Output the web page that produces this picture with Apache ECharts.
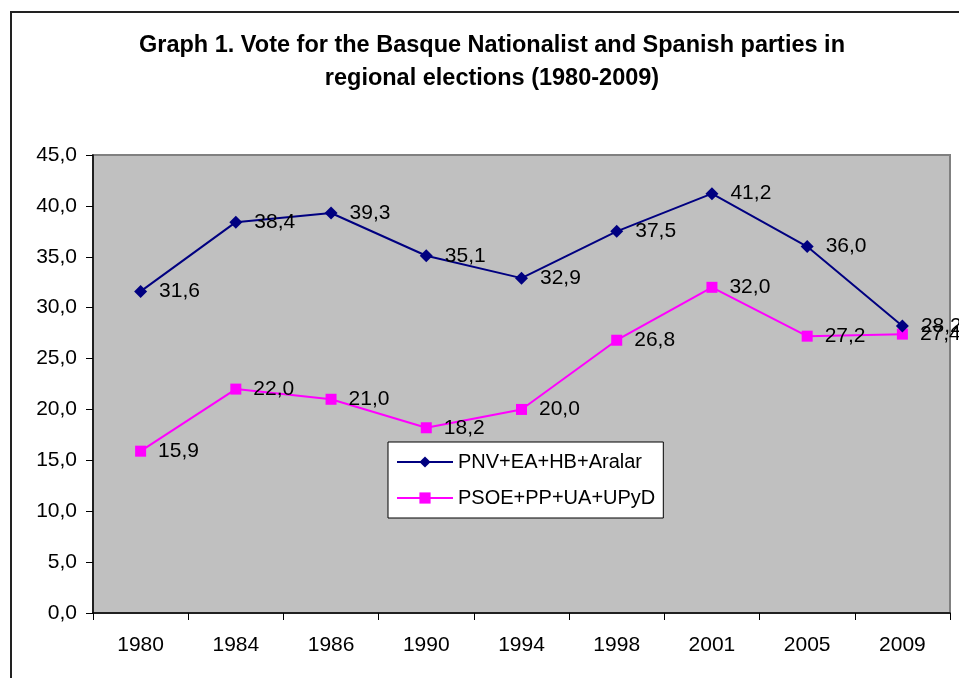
<!DOCTYPE html>
<html>
<head>
<meta charset="utf-8">
<script src="https://cdn.jsdelivr.net/npm/echarts@6/dist/echarts.min.js"></script>
<style>
  html, body { margin: 0; padding: 0; background: #fff; }
  #chart { width: 959px; height: 678px; }
</style>
</head>
<body>
<div id="chart"></div>
<script>
// Election years
const years = ['1980', '1984', '1986', '1990', '1994', '1998', '2001', '2005', '2009'];
// Vote share (%) of the Basque nationalist parties
const nationalist = [31.6, 38.4, 39.3, 35.1, 32.9, 37.5, 41.2, 36.0, 28.2];
// Vote share (%) of the Spanish parties
const spanish = [15.9, 22.0, 21.0, 18.2, 20.0, 26.8, 32.0, 27.2, 27.4];
const seriesNames = ['PNV+EA+HB+Aralar', 'PSOE+PP+UA+UPyD'];
const titleLines = [
  'Graph 1. Vote for the Basque Nationalist and Spanish parties in',
  'regional elections (1980-2009)'
];

const FONT = '"Liberation Sans", Arial, sans-serif';
const comma = v => Number(v).toFixed(1).replace('.', ',');

const chart = echarts.init(document.getElementById('chart'), null, { renderer: 'canvas' });

const labelStyle = {
  show: true,
  position: 'right',
  distance: 12,
  color: '#000',
  fontFamily: FONT,
  fontSize: 21,
  formatter: p => comma(p.value)
};

chart.setOption({
  animation: false,
  backgroundColor: '#fff',
  graphic: [
    {
      type: 'rect',
      shape: { x: 11, y: 12, width: 1000, height: 1000 },
      style: { fill: 'none', stroke: '#222', lineWidth: 2 },
      silent: true
    },
    {
      type: 'text',
      x: 492, y: 46,
      style: {
        text: titleLines[0],
        font: 'bold 23.5px ' + FONT,
        fill: '#000',
        textAlign: 'center',
        textVerticalAlign: 'middle'
      }
    },
    {
      type: 'text',
      x: 492, y: 79,
      style: {
        text: titleLines[1],
        font: 'bold 23.5px ' + FONT,
        fill: '#000',
        textAlign: 'center',
        textVerticalAlign: 'middle'
      }
    }
  ],
  grid: {
    left: 93,
    right: 9,
    top: 155,
    bottom: 65,
    show: true,
    backgroundColor: '#C0C0C0',
    borderColor: '#808080',
    borderWidth: 2
  },
  legend: {
    orient: 'vertical',
    left: 388,
    top: 442,
    itemWidth: 56,
    itemHeight: 14,
    itemGap: 16,
    padding: [10, 8, 10, 8],
    backgroundColor: '#fff',
    borderColor: '#000',
    borderWidth: 1,
    textStyle: { color: '#000', fontFamily: FONT, fontSize: 20 },
    data: seriesNames
  },
  xAxis: {
    type: 'category',
    data: years,
    boundaryGap: true,
    axisLine: { show: true, lineStyle: { color: '#000', width: 1.5 } },
    axisTick: { show: true, length: 7, lineStyle: { color: '#000' } },
    axisLabel: { color: '#000', fontFamily: FONT, fontSize: 21, margin: 22 },
    splitLine: { show: false }
  },
  yAxis: {
    type: 'value',
    min: 0,
    max: 45,
    interval: 5,
    axisLine: { show: true, lineStyle: { color: '#000', width: 1.5 } },
    axisTick: { show: true, length: 7, lineStyle: { color: '#000' } },
    axisLabel: { color: '#000', fontFamily: FONT, fontSize: 21, margin: 16, formatter: v => comma(v) },
    splitLine: { show: false }
  },
  series: [
    {
      name: seriesNames[0],
      type: 'line',
      data: nationalist,
      symbol: 'diamond',
      symbolSize: 13,
      itemStyle: { color: '#000080' },
      lineStyle: { color: '#000080', width: 2 },
      label: labelStyle,
      z: 3
    },
    {
      name: seriesNames[1],
      type: 'line',
      data: spanish,
      symbol: 'rect',
      symbolSize: 11,
      itemStyle: { color: '#FF00FF' },
      lineStyle: { color: '#FF00FF', width: 2 },
      label: labelStyle,
      z: 2
    }
  ]
});
</script>
</body>
</html>
